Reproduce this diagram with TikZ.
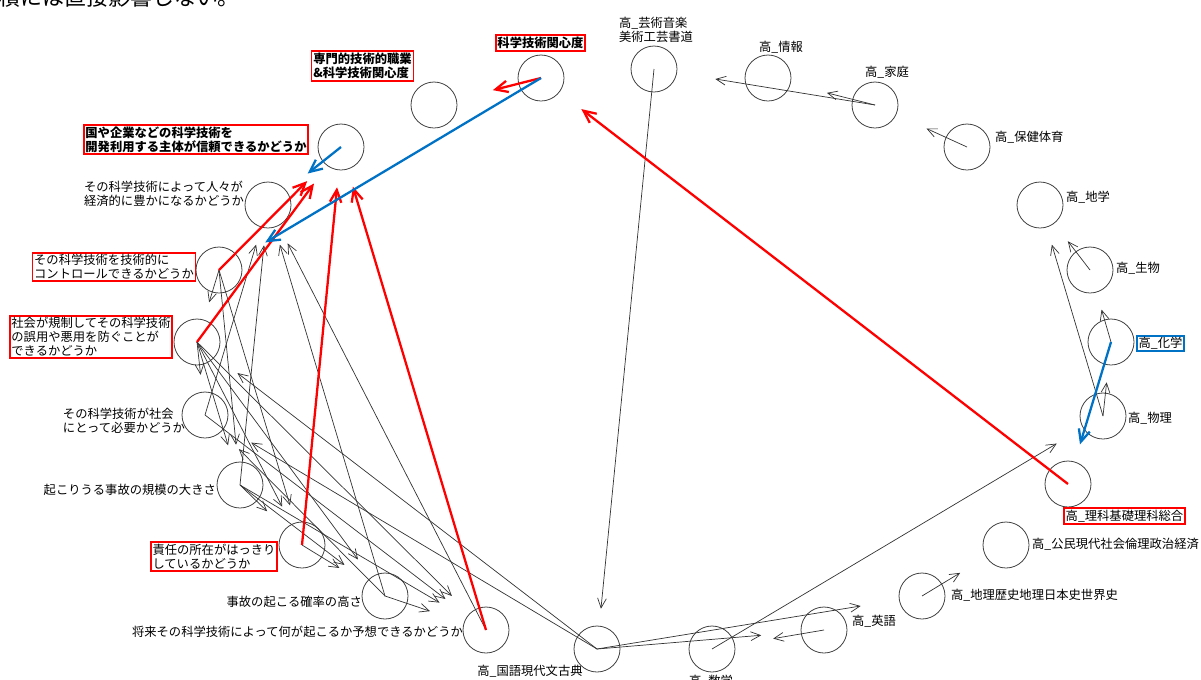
\documentclass[tikz,border=0pt]{standalone}
\usepackage{fontspec}
\setmainfont{Noto Sans CJK JP}
\usetikzlibrary{shapes.geometric,arrows.meta}
\definecolor{hired}{RGB}{255,0,0}
\definecolor{hiblue}{RGB}{0,114,198}

\begin{document}
\begin{tikzpicture}[x=0.02cm,y=-0.02cm,
    vtx/.style={ellipse,minimum width=2.52cm,minimum height=1.6cm,inner sep=0pt},
    lnk/.style={-{Straight Barb[length=5.5pt,width=5pt]},line width=0.4pt,black!80},
    lnkr/.style={-{Straight Barb[length=7pt,width=6.5pt]},line width=1.3pt,hired},
    lnkb/.style={lnkr,hiblue},
    lab/.style={font=\fontsize{7pt}{8pt}\selectfont,inner sep=1pt,align=left},
    rbox/.style={lab,draw=hired,line width=1pt},
    rbold/.style={rbox,font=\fontsize{7pt}{8pt}\selectfont\bfseries},
    bbox/.style={lab,draw=hiblue,line width=1pt}]
    \useasboundingbox (0,0) rectangle (1201,680);
    % cut off line of the page above the figure
    \node[anchor=base west,inner sep=0pt,font=\fontsize{12.5pt}{14pt}\selectfont](top)at (-2,5){積には直接影響しない。};
    \node[vtx](kan)at (541,78){};
    \node[vtx](sen)at (434,105){};
    \node[vtx](shu)at (341,147){};
    \node[vtx](kei)at (268,205){};
    \node[vtx](con)at (219,270){};
    \node[vtx](kis)at (197,342){};
    \node[vtx](hit)at (205,415){};
    \node[vtx](kib)at (240,485){};
    \node[vtx](sek)at (302,545){};
    \node[vtx](kak)at (385,596){};
    \node[vtx](yos)at (486,630){};
    \node[vtx](kok)at (597,649){};
    \node[vtx](sug)at (712,649){};
    \node[vtx](eig)at (824,630){};
    \node[vtx](chr)at (922,596){};
    \node[vtx](kom)at (1006,545){};
    \node[vtx](rik)at (1068,484){};
    \node[vtx](but)at (1103,416){};
    \node[vtx](kag)at (1111,342){};
    \node[vtx](sei)at (1090,270){};
    \node[vtx](chg)at (1040,205){};
    \node[vtx](hok)at (967,147){};
    \node[vtx](kat)at (875,105){};
    \node[vtx](joh)at (768,78){};
    \node[vtx](gei)at (654,69){};
    \foreach \n in {kan,sen,shu,kei,con,kis,hit,kib,sek,kak,yos,kok,sug,eig,chr,kom,rik,but,kag,sei,chg,hok,kat,joh,gei}
        \draw[black!75,line width=0.45pt] (\n.center) circle (0.46cm);
    % thin links
    \foreach \s/\t in {kat/gei,kat/joh,hok/kat,gei/kok,sei/chg,but/chg,but/kag,kag/sei,chr/kom,eig/sug,kok/eig,kok/chr,sug/but,kok/kis,kok/hit,
        con/kis,con/kib,con/sek,kis/hit,kis/kib,kis/sek,kis/kak,kis/yos,hit/kei,hit/yos,kib/kei,kib/sek,kib/kak,kib/yos,
        sek/kak,kak/kei,kak/yos,kak/hit,yos/kei}
        \draw[lnk] (\s.center)--(\t);
    % red and blue links
    \foreach \s/\t in {kan/sen,rik/kan,con/shu,kis/shu,sek/shu,yos/shu}
        \draw[lnkr] (\s.center)--(\t);
    \foreach \s/\t in {kan/con,shu/kei,kag/rik}
        \draw[lnkb] (\s.center)--(\t);
    % labels
    \node[rbold](lkan)at (540.5,43){科学技術関心度};
    \node[rbold](lsen)at (362.5,66){専門的技術的職業\\\&科学技術関心度};
    \node[rbold](lshu)at (196,139.5){国や企業などの科学技術を\\開発利用する主体が信頼できるかどうか};
    \node[lab](lkei)at (164,194){その科学技術によって人々が\\経済的に豊かになるかどうか};
    \node[rbox](lcon)at (114,267){その科学技術を技術的に\\コントロールできるかどうか};
    \node[rbox](lkis)at (91,337){社会が規制してその科学技術\\の誤用や悪用を防ぐことが\\できるかどうか};
    \node[lab](lhit)at (124,421){その科学技術が社会\\にとって必要かどうか};
    \node[lab,anchor=east](lkib)at (218,490){起こりうる事故の規模の大きさ};
    \node[rbox](lsek)at (214,556.5){責任の所在がはっきり\\しているかどうか};
    \node[lab,anchor=east](lkak)at (364,602){事故の起こる確率の高さ};
    \node[lab,anchor=east](lyos)at (465,632){将来その科学技術によって何が起こるか予想できるかどうか};
    \node[lab](lkok)at (530,671){高\_国語現代文古典};
    \node[lab](lsug)at (711,681){高\_数学};
    \node[lab,anchor=west](leig)at (850,621){高\_英語};
    \node[lab,anchor=west](lchr)at (949,595){高\_地理歴史地理日本史世界史};
    \node[lab,anchor=west](lkom)at (1030,544){高\_公民現代社会倫理政治経済};
    \node[rbox](lrik)at (1124.5,516){高\_理科基礎理科総合};
    \node[lab,anchor=west](lbut)at (1126,418){高\_物理};
    \node[bbox](lkag)at (1160.5,343.5){高\_化学};
    \node[lab,anchor=west](lsei)at (1114,268){高\_生物};
    \node[lab,anchor=west](lchg)at (1064,197){高\_地学};
    \node[lab,anchor=west](lhok)at (993,137){高\_保健体育};
    \node[lab](lkat)at (887,72){高\_家庭};
    \node[lab](ljoh)at (781,47){高\_情報};
    \node[lab](lgei)at (656,30){高\_芸術音楽\\美術工芸書道};
\end{tikzpicture}
\end{document}
